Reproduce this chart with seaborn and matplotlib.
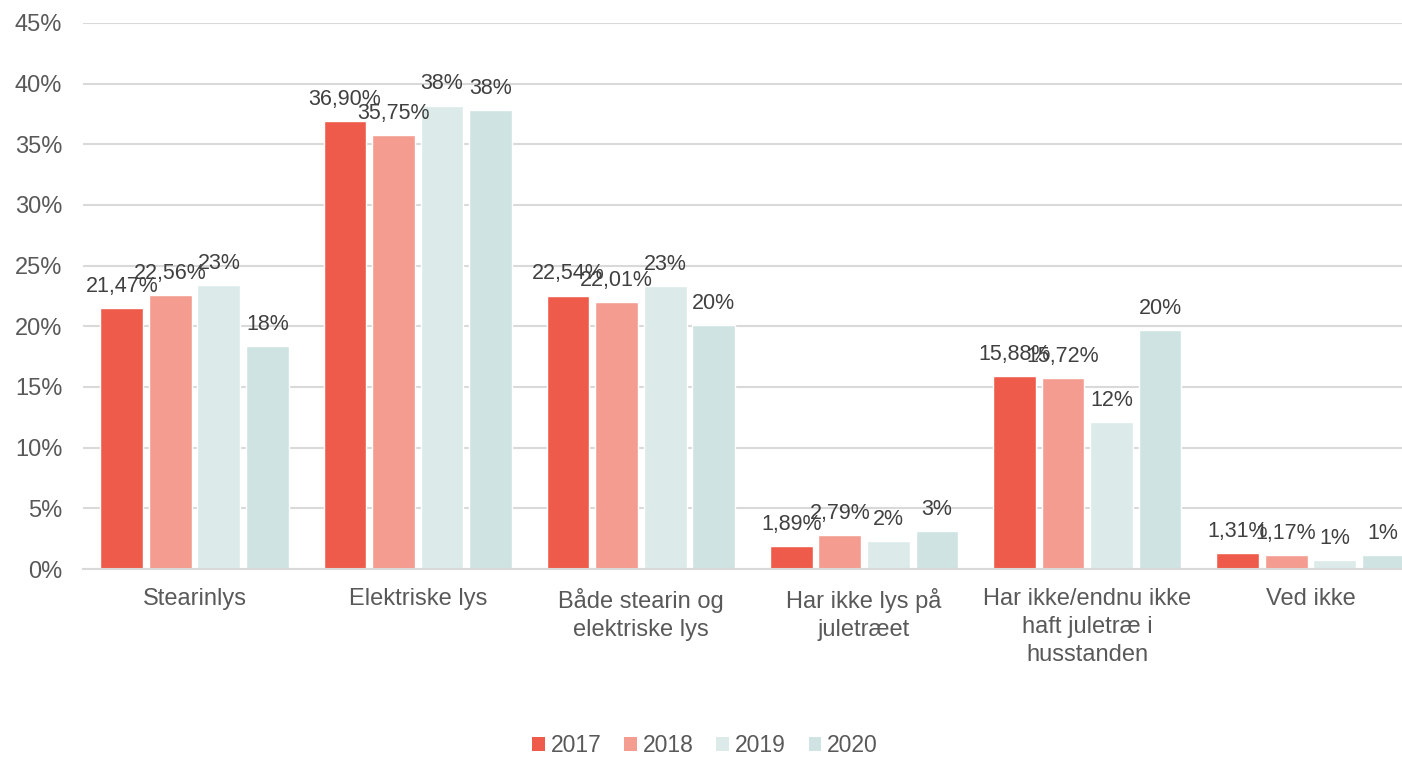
import matplotlib
matplotlib.use('Agg')
import matplotlib.pyplot as plt
import seaborn as sns
import pandas as pd
from matplotlib.patches import Patch

# Data (percent)
categories = ['Stearinlys', 'Elektriske lys', 'Både stearin og\nelektriske lys',
              'Har ikke lys på\njuletræet', 'Har ikke/endnu ikke\nhaft juletræ i\nhusstanden',
              'Ved ikke']
years = ['2017', '2018', '2019', '2020']
v2017 = [21.47, 36.90, 22.54, 1.89, 15.88, 1.31]
v2018 = [22.56, 35.75, 22.01, 2.79, 15.72, 1.17]
v2019 = [23.4, 38.2, 23.3, 2.3, 12.1, 0.75]
v2020 = [18.4, 37.8, 20.1, 3.1, 19.7, 1.15]
yticks = [0, 5, 10, 15, 20, 25, 30, 35, 40, 45]

colors = ['#EF5B4A', '#F49C90', '#DCEAE9', '#CFE3E2']

rows = []
for yr, vals in zip(years, [v2017, v2018, v2019, v2020]):
    for cat, v in zip(categories, vals):
        rows.append({'cat': cat, 'year': yr, 'value': v})
df = pd.DataFrame(rows)

sns.set_style('white')
plt.rcParams['font.family'] = ['Liberation Sans', 'DejaVu Sans']

fig = plt.figure(figsize=(14.02, 7.57), dpi=100)
ax = fig.add_axes([83 / 1402, 1 - 569 / 757, 1339 / 1402, 546 / 757])

sns.barplot(data=df, x='cat', y='value', hue='year', palette=colors,
            width=0.87, gap=0.12, saturation=1, ax=ax, legend=False, errorbar=None)

# data labels: first two years with two decimals, later years rounded
for cont, yr in zip(ax.containers, years):
    vals = df[df['year'] == yr]['value'].tolist()
    if yr in ('2017', '2018'):
        labels = [f'{v:.2f}%'.replace('.', ',') for v in vals]
    else:
        labels = [f'{v:.0f}%' for v in vals]
    ax.bar_label(cont, labels=labels, padding=8, fontsize=15.5, color='#404040')

ax.set_xlim(-0.5, 5.5)
ax.set_ylim(0, 45)
ax.set_yticks(yticks)
ax.set_yticklabels([f'{t}%' for t in yticks])
ax.yaxis.grid(True, color='#D9D9D9', lw=1.5)
ax.set_axisbelow(True)
for s in ['top', 'right', 'left']:
    ax.spines[s].set_visible(False)
ax.spines['bottom'].set_color('#D9D9D9')
ax.spines['bottom'].set_linewidth(1.5)
ax.tick_params(axis='y', length=0, pad=15, labelsize=17, labelcolor='#595959')
ax.tick_params(axis='x', length=0, pad=14, labelsize=17, labelcolor='#595959')
for lbl in ax.get_xticklabels():
    lbl.set_linespacing(1.35)
ax.set_xlabel('')
ax.set_ylabel('')

handles = [Patch(facecolor=c, edgecolor='none', label=y) for c, y in zip(colors, years)]
fig.legend(handles=handles, loc='center', bbox_to_anchor=(705 / 1402, 1 - 746 / 757),
           ncol=4, frameon=False, fontsize=16.5, handlelength=0.55, handleheight=0.55,
           handletextpad=0.25, columnspacing=1.0, labelcolor='#595959')

fig.savefig('out.png', dpi=100)
